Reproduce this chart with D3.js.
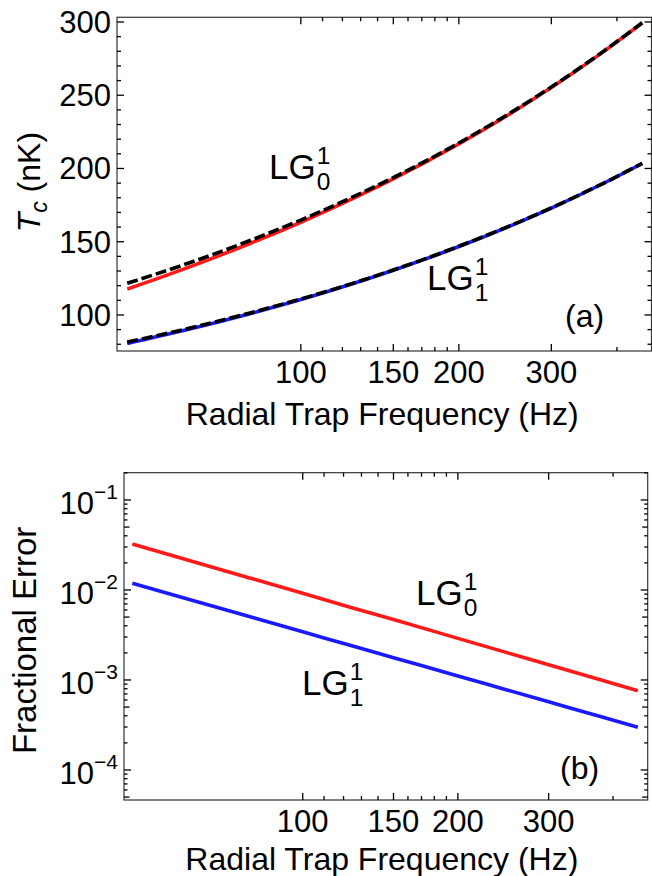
<!DOCTYPE html>
<html><head><meta charset="utf-8">
<script src="https://cdn.jsdelivr.net/npm/d3@7"></script>
<style>body{margin:0;background:#fff}svg{display:block}text{font-family:"Liberation Sans",Arial,sans-serif;fill:#000}</style>
</head><body>
<svg id="chart" width="652" height="876"></svg>
<script>
// ---------- data ----------
const freqHz       = [46.7, 60, 80, 100, 125, 150, 200, 250, 300, 375, 447];
const tcLG0Exact   = [121.6, 134.4, 150.8, 164.8, 180.2, 193.8, 217.4, 237.7, 255.6, 279.4, 299.5];
const tcLG0Approx  = [117.7, 131.5, 148.8, 163.3, 179.1, 192.9, 216.8, 237.2, 255.2, 279.1, 299.3];
const tcLG1Exact   = [81.5, 90.2, 101.4, 110.9, 121.4, 130.7, 146.9, 160.8, 173.1, 189.5, 203.5];
const tcLG1Approx  = [80.5, 89.5, 100.9, 110.5, 121.1, 130.5, 146.7, 160.7, 173.0, 189.4, 203.4];
const errLG0       = [0.0324, 0.0214, 0.0133, 0.0092, 0.0063, 0.0047, 0.0029, 0.0020, 0.00148, 0.00102, 0.00076];
const errLG1       = [0.01187, 0.00789, 0.00494, 0.00343, 0.00238, 0.00177, 0.00111, 0.00077, 0.000572, 0.000398, 0.000298];

const xMajorTicks  = [100, 150, 200, 300];
const xMinorTicks  = [110, 120, 130, 140, 160, 170, 180, 190, 400];
const tcMajorTicks = [100, 150, 200, 250, 300];
const tcMinorTicks = [80, 90, 110, 120, 130, 140, 160, 170, 180, 190, 210, 220, 230, 240, 260, 270, 280, 290];
const errExponents = [-4, -3, -2, -1];
const errMinorMult = [2, 3, 4, 5, 6, 7, 8, 9];

const xTitle = "Radial Trap Frequency (Hz)";

// ---------- setup ----------
const svg = d3.select("#chart");
const FONT_TICK = 31, FONT_TITLE = 32;
const MAJ = 7, MIN = 4;

function frame(g, L, R, T, B) {
  g.append("rect").attr("x", L).attr("y", T).attr("width", R - L).attr("height", B - T)
    .attr("fill", "none").attr("stroke", "#333").attr("stroke-width", 1.2);
}
function xTicks(g, x, T, B) {
  const all = xMajorTicks.map(v => [v, MAJ]).concat(xMinorTicks.map(v => [v, MIN]));
  all.forEach(([v, len]) => {
    const px = x(v);
    g.append("line").attr("x1", px).attr("x2", px).attr("y1", B).attr("y2", B - len).attr("stroke", "#000").attr("stroke-width", 1.3);
    g.append("line").attr("x1", px).attr("x2", px).attr("y1", T).attr("y2", T + len).attr("stroke", "#000").attr("stroke-width", 1.3);
  });
  xMajorTicks.forEach(v => {
    g.append("text").attr("x", x(v)).attr("y", B + 32).attr("text-anchor", "middle")
      .attr("font-size", FONT_TICK).text(v);
  });
}
function yTickLines(g, y, vals, len, L, R) {
  vals.forEach(v => {
    const py = y(v);
    g.append("line").attr("x1", L).attr("x2", L + len).attr("y1", py).attr("y2", py).attr("stroke", "#000").attr("stroke-width", 1.3);
    g.append("line").attr("x1", R).attr("x2", R - len).attr("y1", py).attr("y2", py).attr("stroke", "#000").attr("stroke-width", 1.3);
  });
}
function lgLabel(g, x, y, sub, sup, size) {
  const t = g.append("text").attr("x", x).attr("y", y).attr("font-size", size).text("LG");
  const w = t.node().getComputedTextLength();
  const s = size * 0.7;
  g.append("text").attr("x", x + w + 1).attr("y", y - size * 0.42).attr("font-size", s).text(sup);
  g.append("text").attr("x", x + w + 1).attr("y", y + size * 0.32).attr("font-size", s).text(sub);
}

// ---------- panel (a) ----------
const A = {L: 117, R: 651.5, T: 17.3, B: 351};
const xa = d3.scaleLog().domain([44.65, 465.5]).range([A.L, A.R]);
const ya = d3.scaleLinear().domain([75.4, 303.2]).range([A.B, A.T]);
const ga = svg.append("g");
const clipA = svg.append("clipPath").attr("id", "clipA");
clipA.append("rect").attr("x", A.L).attr("y", A.T).attr("width", A.R - A.L).attr("height", A.B - A.T);

const lineA = vals => d3.line().x((d, i) => xa(freqHz[i])).y(d => ya(d)).curve(d3.curveMonotoneX)(vals);
const plotA = ga.append("g").attr("clip-path", "url(#clipA)");
plotA.append("path").attr("d", lineA(tcLG0Approx)).attr("fill", "none").attr("stroke", "#ff1a1a").attr("stroke-width", 3.6);
plotA.append("path").attr("d", lineA(tcLG0Exact)).attr("fill", "none").attr("stroke", "#000").attr("stroke-width", 3.6).attr("stroke-dasharray", "11,4");
plotA.append("path").attr("d", lineA(tcLG1Approx)).attr("fill", "none").attr("stroke", "#1a1aff").attr("stroke-width", 3.6);
plotA.append("path").attr("d", lineA(tcLG1Exact)).attr("fill", "none").attr("stroke", "#000").attr("stroke-width", 3.6).attr("stroke-dasharray", "11,4");

frame(ga, A.L, A.R, A.T, A.B);
xTicks(ga, xa, A.T, A.B);
yTickLines(ga, ya, tcMajorTicks, MAJ, A.L, A.R);
yTickLines(ga, ya, tcMinorTicks, MIN, A.L, A.R);
tcMajorTicks.forEach(v => {
  ga.append("text").attr("x", A.L - 6).attr("y", ya(v) + 11).attr("text-anchor", "end")
    .attr("font-size", FONT_TICK).text(v);
});
ga.append("text").attr("x", (A.L + A.R) / 2 - 2).attr("y", 425).attr("text-anchor", "middle")
  .attr("font-size", FONT_TITLE).text(xTitle);
const ta = ga.append("text").attr("transform", `translate(40,${(A.T + A.B) / 2 - 2}) rotate(-90)`)
  .attr("text-anchor", "middle").attr("font-size", FONT_TITLE);
ta.append("tspan").attr("font-style", "italic").text("T");
ta.append("tspan").attr("font-style", "italic").attr("font-size", 23).attr("dy", 7).text("c");
ta.append("tspan").attr("dy", -7).text(" (nK)");
lgLabel(ga, 269, 179, "0", "1", 35);
lgLabel(ga, 427, 290, "1", "1", 35);
ga.append("text").attr("x", 565).attr("y", 327).attr("font-size", 32).text("(a)");

// ---------- panel (b) ----------
const Bp = {L: 124, R: 647.7, T: 472.7, B: 800};
const xb = d3.scaleLog().domain([45.0, 467]).range([Bp.L, Bp.R]);
const yb = d3.scaleLog().domain([4.64e-5, 0.2009]).range([Bp.B, Bp.T]);
const gb = svg.append("g");
const clipB = svg.append("clipPath").attr("id", "clipB");
clipB.append("rect").attr("x", Bp.L).attr("y", Bp.T).attr("width", Bp.R - Bp.L).attr("height", Bp.B - Bp.T);
const lineB = vals => d3.line().x((d, i) => xb(freqHz[i])).y(d => yb(d)).curve(d3.curveMonotoneX)(vals);
const plotB = gb.append("g").attr("clip-path", "url(#clipB)");
plotB.append("path").attr("d", lineB(errLG0)).attr("fill", "none").attr("stroke", "#ff1a1a").attr("stroke-width", 3.6);
plotB.append("path").attr("d", lineB(errLG1)).attr("fill", "none").attr("stroke", "#1a1aff").attr("stroke-width", 3.6);

frame(gb, Bp.L, Bp.R, Bp.T, Bp.B);
xTicks(gb, xb, Bp.T, Bp.B);
const ybMajor = errExponents.map(e => Math.pow(10, e));
const ybMinor5 = [], ybMinor = [];
[-5, -4, -3, -2, -1].forEach(e => errMinorMult.forEach(m => {
  const v = m * Math.pow(10, e);
  if (v >= yb.domain()[0] && v <= yb.domain()[1]) (m === 5 ? ybMinor5 : ybMinor).push(v);
}));
yTickLines(gb, yb, ybMajor, MAJ, Bp.L, Bp.R);
yTickLines(gb, yb, ybMinor5, 5.5, Bp.L, Bp.R);
yTickLines(gb, yb, ybMinor, 3.5, Bp.L, Bp.R);
errExponents.forEach(e => {
  const t = gb.append("text").attr("x", Bp.L - 6).attr("y", yb(Math.pow(10, e)) + 14).attr("text-anchor", "end")
    .attr("font-size", FONT_TICK);
  t.append("tspan").text("10");
  t.append("tspan").attr("font-size", 21).attr("dy", -15).text("\u2212" + Math.abs(e));
});
gb.append("text").attr("x", (Bp.L + Bp.R) / 2 - 4).attr("y", 870).attr("text-anchor", "middle")
  .attr("font-size", FONT_TITLE).text(xTitle);
gb.append("text").attr("transform", `translate(36,${(Bp.T + Bp.B) / 2 + 4}) rotate(-90)`)
  .attr("text-anchor", "middle").attr("font-size", 33).text("Fractional Error");
lgLabel(gb, 416, 605, "0", "1", 35);
lgLabel(gb, 302, 695, "1", "1", 35);
gb.append("text").attr("x", 560).attr("y", 779).attr("font-size", 32).text("(b)");
</script>
</body></html>
